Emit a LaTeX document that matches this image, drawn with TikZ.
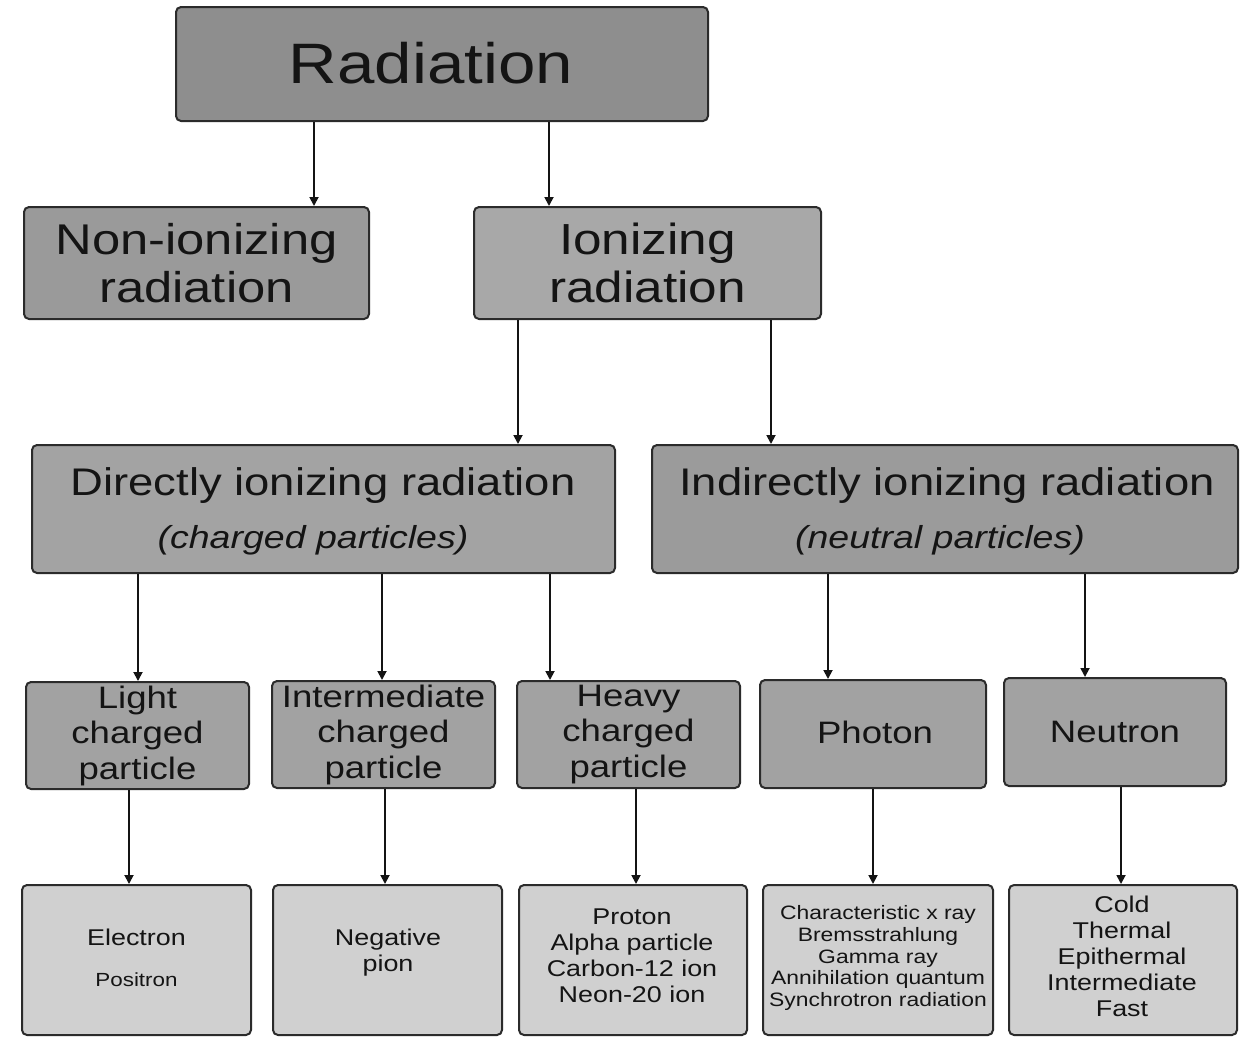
\documentclass[tikz,border=0pt]{standalone}
\usepackage{fontspec}
\setmainfont{Liberation Sans}[FakeStretch=1.18]
\usetikzlibrary{arrows.meta}
\definecolor{radfill}{HTML}{8E8E8E}
\definecolor{nonfill}{HTML}{9A9A9A}
\definecolor{ionfill}{HTML}{A8A8A8}
\definecolor{dirfill}{HTML}{A3A3A3}
\definecolor{indfill}{HTML}{9B9B9B}
\definecolor{midfill}{HTML}{A2A2A2}
\definecolor{leaffill}{HTML}{D0D0D0}
\definecolor{edge}{HTML}{2B2B2B}
\definecolor{ink}{HTML}{141414}
\tikzset{
  box/.style={draw=edge, line width=2pt, rounded corners=5pt, align=center,
    text=ink, inner sep=0pt, anchor=center},
  lbl/.style={align=center, text=ink, inner sep=0pt, anchor=center},
  arr/.style={draw=ink, line width=1.8pt, -{Triangle[length=9pt,width=9pt]}},
}
\begin{document}
\begin{tikzpicture}[x=1pt,y=-1pt]
\useasboundingbox (0,0) rectangle (1247,1037);
% level 0
\node[box, fill=radfill, minimum width=532pt, minimum height=114pt] (rad) at (442,64) {};
\node[lbl, font=\fontsize{57}{60}\selectfont] (radt) at (431,63) {Radiation};
% level 1
\node[box, fill=nonfill, minimum width=345pt, minimum height=112pt,
  font=\fontsize{43}{48}\selectfont] (non) at (196.5,263) {Non-ionizing\\radiation};
\node[box, fill=ionfill, minimum width=347pt, minimum height=112pt,
  font=\fontsize{43.5}{48}\selectfont] (ion) at (647.5,263) {Ionizing\\radiation};
% level 2
\node[box, fill=dirfill, minimum width=583pt, minimum height=128pt] (dir) at (323.5,509) {};
\node[lbl, font=\fontsize{38.5}{42}\selectfont] (dirt) at (323,486) {Directly ionizing radiation};
\node[lbl, font=\fontsize{31.8}{34}\selectfont\itshape] (dirs) at (313,540) {(charged particles)};
\node[box, fill=indfill, minimum width=586pt, minimum height=128pt] (ind) at (945,509) {};
\node[lbl, font=\fontsize{38.5}{42}\selectfont] (indt) at (947,486) {Indirectly ionizing radiation};
\node[lbl, font=\fontsize{31.8}{34}\selectfont\itshape] (inds) at (940,540) {(neutral particles)};
% level 3
\tikzset{mid/.style={box, fill=midfill, minimum height=107pt,
  font=\fontsize{31}{35.5}\selectfont}}
\node[mid, minimum width=223pt] (light) at (137.5,735.5) {Light\\charged\\particle};
\node[mid, minimum width=223pt] (inter) at (383.5,734.5) {Intermediate\\charged\\particle};
\node[mid, minimum width=223pt] (heavy) at (628.5,734.5) {Heavy\\charged\\particle};
\node[mid, minimum width=226pt, minimum height=108pt] (photon) at (873,734) {};
\node[lbl, font=\fontsize{31}{35.5}\selectfont] (photont) at (875,732) {Photon};
\node[mid, minimum width=222pt, minimum height=108pt] (neutron) at (1115,732) {Neutron};
% leaves
\tikzset{leaf/.style={box, fill=leaffill, minimum height=150pt},
  leaftext/.style={lbl, font=\fontsize{22.8}{26}\selectfont}}
\node[leaf, minimum width=229pt] (elec) at (136.5,960) {};
\node[leaftext] (elect) at (136.5,958) {Electron\\[15pt]{\fontsize{19}{22}\selectfont Positron}};
\node[leaf, minimum width=229pt] (pion) at (387.5,960) {};
\node[leaftext] (piont) at (388,953) {Negative\\pion};
\node[leaf, minimum width=228pt] (prot) at (633,960) {};
\node[leaftext] (prott) at (632,956) {Proton\\Alpha particle\\Carbon-12 ion\\Neon-20 ion};
\node[leaf, minimum width=230pt] (char) at (878,960) {};
\node[lbl, font=\fontsize{19.4}{21.7}\selectfont] (chart) at (878,958)
  {Characteristic x ray\\Bremsstrahlung\\Gamma ray\\Annihilation quantum\\Synchrotron radiation};
\node[leaf, minimum width=228pt] (cold) at (1123,960) {};
\node[leaftext] (coldt) at (1122,956) {Cold\\Thermal\\Epithermal\\Intermediate\\Fast};
% connectors
\draw[arr] (314,0 |- rad.south) -- (314,0 |- non.north);
\draw[arr] (549,0 |- rad.south) -- (549,0 |- ion.north);
\draw[arr] (518,0 |- ion.south) -- (518,0 |- dir.north);
\draw[arr] (771,0 |- ion.south) -- (771,0 |- ind.north);
\draw[arr] (138,0 |- dir.south) -- (138,0 |- light.north);
\draw[arr] (382,0 |- dir.south) -- (382,0 |- inter.north);
\draw[arr] (550,0 |- dir.south) -- (550,0 |- heavy.north);
\draw[arr] (828,0 |- ind.south) -- (828,0 |- photon.north);
\draw[arr] (1085,0 |- ind.south) -- (1085,0 |- neutron.north);
\draw[arr] (129,0 |- light.south) -- (129,0 |- elec.north);
\draw[arr] (385,0 |- inter.south) -- (385,0 |- pion.north);
\draw[arr] (636,0 |- heavy.south) -- (636,0 |- prot.north);
\draw[arr] (873,0 |- photon.south) -- (873,0 |- char.north);
\draw[arr] (1121,0 |- neutron.south) -- (1121,0 |- cold.north);
\end{tikzpicture}
\end{document}
